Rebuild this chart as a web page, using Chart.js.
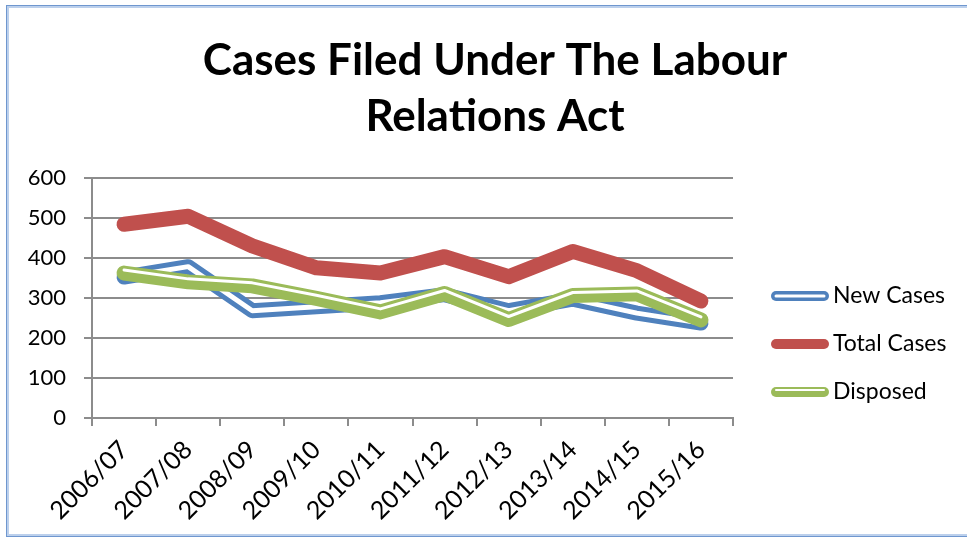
<!DOCTYPE html>
<html>
<head>
<meta charset="utf-8">
<title>Cases Filed Under The Labour Relations Act</title>
<script src="https://cdn.jsdelivr.net/npm/chart.js@4.4.1/dist/chart.umd.min.js"></script>
<style>
  html, body { margin: 0; padding: 0; background: #fff; }
  #wrap { position: relative; width: 967px; height: 538px; overflow: hidden; }
  #frame {
    position: absolute; left: 6px; top: 5px; width: 990px; height: 530px;
    border: 1px solid #6f97cf; box-shadow: inset 0 0 0 2px #bcd0ec;
    pointer-events: none;
  }
</style>
</head>
<body>
<div id="wrap">
  <canvas id="labourChart" width="967" height="538"></canvas>
  <div id="frame"></div>
</div>
<script>
// values
const years = ['2006/07', '2007/08', '2008/09', '2009/10', '2010/11',
               '2011/12', '2012/13', '2013/14', '2014/15', '2015/16'];
const newCases   = [352, 378, 268, 278, 288, 308, 268, 297, 262, 237];
const totalCases = [484, 504, 430, 375, 362, 403, 353, 416, 368, 292];
const disposed   = [362, 340, 330, 299, 265, 311, 246, 306, 310, 245];

const BLUE = '#4f81bd';
const RED = '#c0504d';
const GREEN = '#9bbb59';
const GRID = '#8c8c8c';
const FONT = 'Lato';

// nudges the white inner stroke of a "thin-thick" line upwards
const shiftPlugin = {
    id: 'shiftY',
    beforeDatasetDraw(chart, args) {
        const dy = chart.data.datasets[args.index].shiftY;
        if (dy) {
            chart.ctx.save();
            chart.ctx.translate(0, dy);
        }
    },
    afterDatasetDraw(chart, args) {
        if (chart.data.datasets[args.index].shiftY) chart.ctx.restore();
    }
};

// Excel style legend to the right, with compound line swatches
const sideLegend = {
    id: 'sideLegend',
    afterDraw(chart) {
        const ctx = chart.ctx;
        const items = chart.data.datasets.filter(d => !d.overlay);
        ctx.save();
        ctx.font = '23px ' + FONT;
        ctx.textBaseline = 'middle';
        ctx.lineCap = 'round';
        items.forEach((ds, i) => {
            const y = 296 + i * 48;
            ctx.strokeStyle = ds.borderColor;
            ctx.lineWidth = 10;
            ctx.beginPath();
            ctx.moveTo(776, y);
            ctx.lineTo(824, y);
            ctx.stroke();
            if (ds.swatch) {
                ctx.strokeStyle = '#fff';
                ctx.lineWidth = ds.swatch === 'double' ? 3 : 2;
                const dy = ds.swatch === 'double' ? 0 : -2;
                ctx.beginPath();
                ctx.moveTo(776, y + dy);
                ctx.lineTo(824, y + dy);
                ctx.stroke();
            }
            ctx.fillStyle = '#000';
            ctx.fillText(ds.label, 833, y);
        });
        ctx.restore();
    }
};

const lineBase = {
    fill: false,
    tension: 0,
    pointRadius: 0,
    pointHoverRadius: 0,
    borderCapStyle: 'round',
    borderJoinStyle: 'round'
};

new Chart(document.getElementById('labourChart'), {
    type: 'line',
    data: {
        labels: years,
        datasets: [
            { ...lineBase, label: 'New Cases', data: newCases, borderColor: BLUE, borderWidth: 15, order: 5, swatch: 'double' },
            { ...lineBase, label: '', data: newCases, borderColor: '#fff', borderWidth: 5, order: 4, overlay: true },
            { ...lineBase, label: 'Total Cases', data: totalCases, borderColor: RED, borderWidth: 15, order: 3 },
            { ...lineBase, label: 'Disposed', data: disposed, borderColor: GREEN, borderWidth: 15, order: 2, swatch: 'thinthick' },
            { ...lineBase, label: '', data: disposed, borderColor: '#fff', borderWidth: 3, order: 1, overlay: true, shiftY: -3 }
        ]
    },
    options: {
        responsive: false,
        animation: false,
        layout: { padding: { left: 23, right: 0, top: 0, bottom: 0 } },
        plugins: {
            legend: { display: false },
            tooltip: { enabled: false },
            title: {
                display: true,
                text: ['Cases Filed Under The Labour', 'Relations Act'],
                color: '#000',
                font: { family: FONT, size: 44, weight: 'bold', lineHeight: 1.27 },
                padding: { top: 33, bottom: 33 }
            }
        },
        scales: {
            x: {
                offset: true,
                grid: { offset: true, drawOnChartArea: false, color: GRID, lineWidth: 2, tickLength: 8 },
                border: { color: GRID, width: 2 },
                ticks: {
                    color: '#000',
                    font: { family: FONT, size: 25 },
                    minRotation: 45,
                    maxRotation: 45,
                    autoSkip: false,
                    padding: 9
                },
                afterFit(scale) {
                    scale.height = 120;
                    scale.paddingLeft = 0;
                    scale.paddingRight = 234;
                }
            },
            y: {
                min: 0,
                max: 600,
                ticks: {
                    stepSize: 100,
                    color: '#000',
                    font: { family: FONT, size: 22 },
                    padding: 18
                },
                grid: { color: GRID, lineWidth: 2, tickLength: 8 },
                border: { color: GRID, width: 2 },
                afterFit(scale) {
                    scale.width = 69;
                }
            }
        }
    },
    plugins: [shiftPlugin, sideLegend]
});
</script>
</body>
</html>
